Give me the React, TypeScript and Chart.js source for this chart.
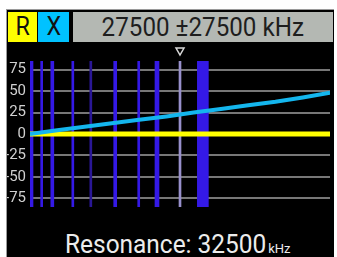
import React, { useEffect, useRef } from "react";
import { Chart, registerables } from "chart.js";

Chart.register(...registerables);

// ---- data ----
const centerKHz = 27500;
const spanKHz = 27500;
const resonanceKHz = 32500;
const freqMin = 0;
const freqMax = 55000;
const yMin = -85;
const yMax = 85;
const yTicks = [75, 50, 25, 0, -25, -50, -75];

const sweepFreqs = [0, 5000, 10000, 15000, 20000, 25000, 30000, 35000, 40000, 45000, 50000, 55000];
const rValues = [0, 0, 0, 0, 0, 0, 0, 0, 0, 0, 0, 0];
const xValues = [0, 4.3, 8.5, 12.5, 16.5, 20.5, 25, 29, 33.5, 37.5, 42.5, 48];

const thickBarFreqs = [275, 4090, 15620];
const wideBarFreqs = [23280];
const thinBarFreqs = [2140, 7850, 19930];
const dimBarFreqs = [11150];
const markerFreqs = [centerKHz];
const resonanceBandFreqs = [31690];

const FONT = '"Roboto", sans-serif';

function barData(freqs: number[]) {
  return freqs.map((f) => ({ x: f, y: [yMin, yMax] }));
}
function lineData(ys: number[]) {
  return sweepFreqs.map((f, i) => ({ x: f, y: ys[i] }));
}

const markerPlugin = {
  id: "markerTriangle",
  afterDraw(chart: any) {
    const xs = chart.scales.x;
    const ctx = chart.ctx as CanvasRenderingContext2D;
    ctx.save();
    markerFreqs.forEach((f) => {
      const px = xs.getPixelForValue(f);
      ctx.beginPath();
      ctx.moveTo(px - 4, 4);
      ctx.lineTo(px + 4, 4);
      ctx.lineTo(px, 11);
      ctx.closePath();
      ctx.strokeStyle = "#d8d8d8";
      ctx.lineWidth = 1.5;
      ctx.stroke();
    });
    ctx.restore();
  },
};

export default function App() {
  const ref = useRef<HTMLCanvasElement>(null);
  useEffect(() => {
    const barCommon = { type: "bar" as const, grouped: false, borderWidth: 0, order: 5 };
    const chart = new Chart(ref.current!, {
      type: "line",
      data: {
        datasets: [
          { ...barCommon, label: "bands", data: barData(thickBarFreqs) as any, backgroundColor: "#3419e6", barThickness: 3 },
          { ...barCommon, label: "bands2", data: barData(wideBarFreqs) as any, backgroundColor: "#3419e6", barThickness: 4 },
          { ...barCommon, label: "bands3", data: barData(thinBarFreqs) as any, backgroundColor: "#3419e6", barThickness: 2 },
          { ...barCommon, label: "bands4", data: barData(dimBarFreqs) as any, backgroundColor: "#2a1796", barThickness: 2 },
          { ...barCommon, label: "marker", data: barData(markerFreqs) as any, backgroundColor: "#9890cc", barThickness: 2 },
          { ...barCommon, label: "resonance", data: barData(resonanceBandFreqs) as any, backgroundColor: "#3419e6", barThickness: 11 },
          {
            type: "line",
            label: "R",
            data: lineData(rValues) as any,
            borderColor: "#ffff00",
            borderWidth: 5,
            pointRadius: 0,
            tension: 0,
            order: 2,
          },
          {
            type: "line",
            label: "X",
            data: lineData(xValues) as any,
            borderColor: "#14b6ee",
            borderWidth: 4,
            pointRadius: 0,
            tension: 0,
            order: 1,
          },
        ],
      },
      options: {
        responsive: false,
        animation: false,
        layout: { padding: { left: 0, right: 3, top: 17, bottom: 7 } },
        plugins: { legend: { display: false }, tooltip: { enabled: false } },
        scales: {
          x: {
            type: "linear",
            min: freqMin,
            max: freqMax,
            offset: false,
            display: false,
            grid: { display: false },
          },
          y: {
            type: "linear",
            min: yMin,
            max: yMax,
            afterBuildTicks: (axis: any) => {
              axis.ticks = yTicks.map((v) => ({ value: v }));
            },
            afterFit: (axis: any) => {
              axis.width = 23;
            },
            border: { display: false },
            grid: { color: "#777777", lineWidth: 2, drawTicks: false },
            ticks: {
              color: "#d0d0d0",
              padding: 4,
              font: { family: FONT, size: 15 },
            },
          },
        },
      },
      plugins: [markerPlugin],
    });
    return () => chart.destroy();
  }, []);

  const box: React.CSSProperties = {
    position: "absolute",
    top: 12,
    height: 30,
    lineHeight: "30px",
    textAlign: "center",
    fontFamily: FONT,
    fontSize: 25,
    color: "#111",
    overflow: "hidden",
  };
  const narrow: React.CSSProperties = {
    display: "inline-block",
    transform: "scaleX(0.93)",
    transformOrigin: "center",
    whiteSpace: "nowrap",
  };

  return (
    <div style={{ position: "absolute", left: 0, top: 0, width: 337, height: 257, background: "#fff", overflow: "hidden" }}>
      <div
        style={{
          position: "absolute",
          left: 6,
          top: 9,
          width: 327,
          height: 260,
          background: "#000",
          borderTop: "1px solid #9a9a9a",
          borderLeft: "1px solid #9a9a9a",
        }}
      />
      <div style={{ ...box, left: 8, width: 29, background: "#ffff00" }}>
        <span style={narrow}>R</span>
      </div>
      <div style={{ ...box, left: 38, width: 31, background: "#00c2ff" }}>
        <span style={narrow}>X</span>
      </div>
      <div style={{ ...box, left: 73, width: 260, background: "#b4b8b3", color: "#1e1e1e", fontSize: 26 }}>
        <span style={narrow}>{`${centerKHz} ±${spanKHz} kHz`}</span>
      </div>
      <canvas ref={ref} width={326} height={176} style={{ position: "absolute", left: 7, top: 44, width: 326, height: 176 }} />
      <div
        style={{
          position: "absolute",
          left: 65,
          top: 231,
          whiteSpace: "nowrap",
          fontFamily: FONT,
          color: "#ececec",
          lineHeight: "26px",
        }}
      >
        <span style={{ fontSize: 26, display: "inline-block", transform: "scaleX(0.94)", transformOrigin: "left" }}>
          Resonance: {resonanceKHz}
        </span>
        <span style={{ fontSize: 13, marginLeft: -11 }}>kHz</span>
      </div>
    </div>
  );
}
